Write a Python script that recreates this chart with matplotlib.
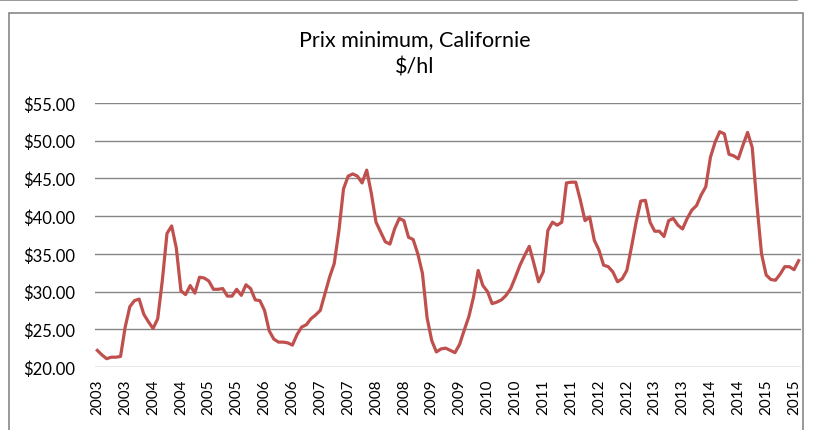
import matplotlib
matplotlib.use("Agg")
from matplotlib import pyplot as plt
from matplotlib.patches import Rectangle
from matplotlib.lines import Line2D

# monthly minimum price, Jan 2003 .. Aug 2015 ($/hl)
prices = [
    22.2, 21.6, 21.1, 21.3, 21.3, 21.4, 25.3, 28.0, 28.8, 29.0,   # 2003
    27.0, 26.0, 25.1, 26.4, 31.5, 37.7, 38.7, 35.8, 30.1, 29.6,
    30.8, 29.8, 31.9, 31.8, 31.4, 30.3, 30.3, 30.4, 29.4, 29.4,
    30.3, 29.5, 30.9, 30.4, 28.9, 28.8, 27.5, 24.8, 23.7, 23.3,
    23.3, 23.2, 22.9, 24.3, 25.3, 25.6, 26.4, 26.9, 27.5, 29.7,
    31.9, 33.7, 38.0, 43.6, 45.3, 45.6, 45.3, 44.4, 46.1, 43.0,
    39.2, 37.9, 36.6, 36.3, 38.3, 39.7, 39.4, 37.2, 36.9, 35.0,
    32.4, 26.5, 23.5, 22.0, 22.4, 22.5, 22.2, 21.9, 23.0, 24.9,
    26.7, 29.3, 32.8, 30.8, 30.0, 28.4, 28.6, 28.9, 29.5, 30.4,
    31.9, 33.5, 34.8, 36.0, 33.7, 31.3, 32.6, 38.1, 39.2, 38.8,
    39.2, 44.4, 44.5, 44.5, 42.1, 39.4, 39.9, 36.8, 35.5, 33.5,
    33.3, 32.6, 31.3, 31.7, 32.8, 35.9, 39.2, 42.0, 42.1, 39.2,
    38.0, 38.0, 37.3, 39.4, 39.7, 38.8, 38.3, 39.7, 40.8, 41.4,
    42.8, 43.9, 47.8, 49.8, 51.2, 50.9, 48.2, 48.0, 47.6, 49.4,
    51.1, 49.1, 41.6, 35.0, 32.2, 31.6, 31.5, 32.3, 33.3, 33.3,
    32.9, 34.1,
]
years = list(range(2003, 2016))
tick_labels = [str(y) for y in years for _ in range(2)]
y_ticks = [20, 25, 30, 35, 40, 45, 50, 55]

plt.rcParams['font.family'] = ['Lato', 'DejaVu Sans']

fig = plt.figure(figsize=(8.14, 4.31), dpi=100)
ax = fig.add_axes([95/814, 1-368/431, (801-95)/814, (368-104)/431])

x = list(range(len(prices)))
ax.plot(x, prices, color="#C0504D", lw=2.3, solid_joinstyle="round", zorder=3)

ax.set_xlim(-0.5, len(prices) - 0.5)
ax.set_ylim(20, 55)
ax.set_yticks(y_ticks)
ax.set_yticklabels(["$%.2f" % v for v in y_ticks], fontsize=12)
ax.set_xticks(range(0, len(tick_labels) * 6, 6))
ax.set_xticklabels(tick_labels, rotation=90, fontsize=11)
ax.tick_params(length=0, pad=8)
ax.tick_params(axis="y", pad=14)
ax.grid(axis="y", color="#868686", lw=1)
ax.set_axisbelow(True)
for s in ["top", "right", "left", "bottom"]:
    ax.spines[s].set_visible(False)

fig.text(415/814, 1-40/431, "Prix minimum, Californie", ha="center", va="center", fontsize=15.5)
fig.text(415/814, 1-68/431, "$/hl", ha="center", va="center", fontsize=15.5)

# chart frame
fig.patches.append(Rectangle((9/814, -0.1), (803-9)/814, 1.1-14/431, transform=fig.transFigure,
                             fill=False, edgecolor="#888888", lw=1.2))
fig.lines.append(Line2D([0, 797/814], [1-1/431, 1-1/431], transform=fig.transFigure,
                        color="#888888", lw=1.2))

fig.savefig("out.png", dpi=100)
